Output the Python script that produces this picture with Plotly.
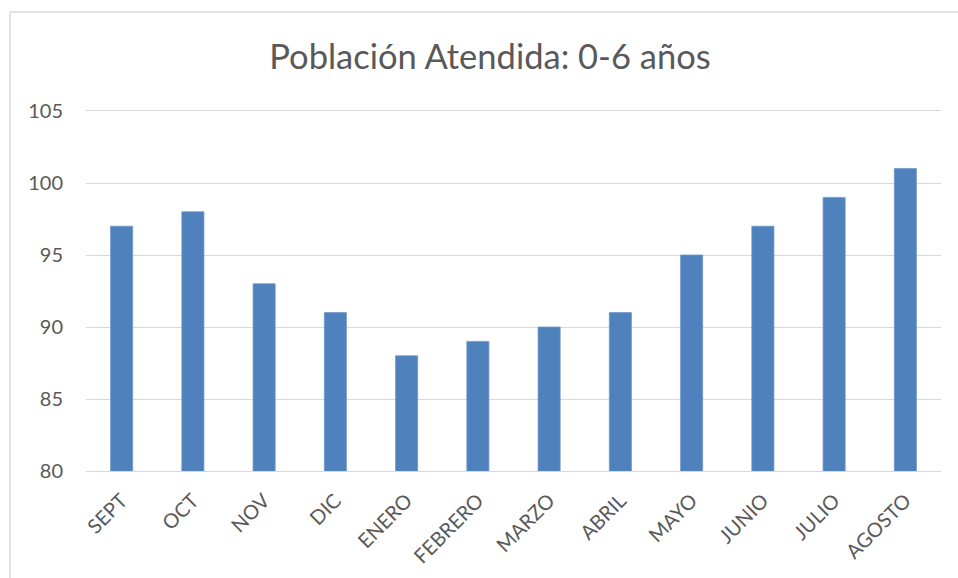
import plotly.graph_objects as go

months = ["SEPT", "OCT", "NOV", "DIC", "ENERO", "FEBRERO", "MARZO", "ABRIL",
          "MAYO", "JUNIO", "JULIO", "AGOSTO"]
values = [97, 98, 93, 91, 88, 89, 90, 91, 95, 97, 99, 101]
y_ticks = [80, 85, 90, 95, 100, 105]

W, H = 958, 578
L, R, T, B = 86, 17, 111, 107
pw, ph = W - L - R, H - T - B

def px(x):
    return (x - L) / pw

def py(y):
    return (H - B - y) / ph

fig = go.Figure(go.Bar(
    x=months, y=values,
    marker=dict(color="#4f81bd", line=dict(color="#6f97cc", width=0.8)),
))

fig.update_layout(
    width=W, height=H,
    margin=dict(l=L, r=R, t=T, b=B),
    paper_bgcolor="white", plot_bgcolor="white",
    bargap=0.69,
    showlegend=False,
    font=dict(family="Lato, 'Open Sans', sans-serif", color="#595959"),
    title=dict(text="Población Atendida: 0-6 años", x=490 / W, xanchor="center",
               xref="container", yref="container", y=1 - 57 / H, yanchor="middle",
               font=dict(size=34.5, color="#595959")),
    xaxis=dict(tickangle=-45, tickfont=dict(size=20, color="#595959"),
               showline=True, linecolor="#d9d9d9", linewidth=1.3, mirror=True,
               showgrid=False, ticks="outside", ticklen=9, tickcolor="rgba(0,0,0,0)"),
    yaxis=dict(range=[80, 105], tickvals=y_ticks, tickfont=dict(size=20, color="#595959"),
               showgrid=True, gridcolor="#d9d9d9", gridwidth=1.3, zeroline=False,
               showline=False, ticks="", ticklabelstandoff=22),
    shapes=[
        dict(type="line", xref="paper", yref="paper", x0=px(10), x1=px(10),
             y0=py(12), y1=py(590), line=dict(color="#d9d9d9", width=1.5)),
        dict(type="line", xref="paper", yref="paper", x0=px(10), x1=px(970),
             y0=py(12), y1=py(12), line=dict(color="#d9d9d9", width=1.5)),
    ],
)

fig.write_html("out.html", config={"displayModeBar": False},
               post_script="document.body.style.margin='0';document.body.style.overflow='hidden';")
